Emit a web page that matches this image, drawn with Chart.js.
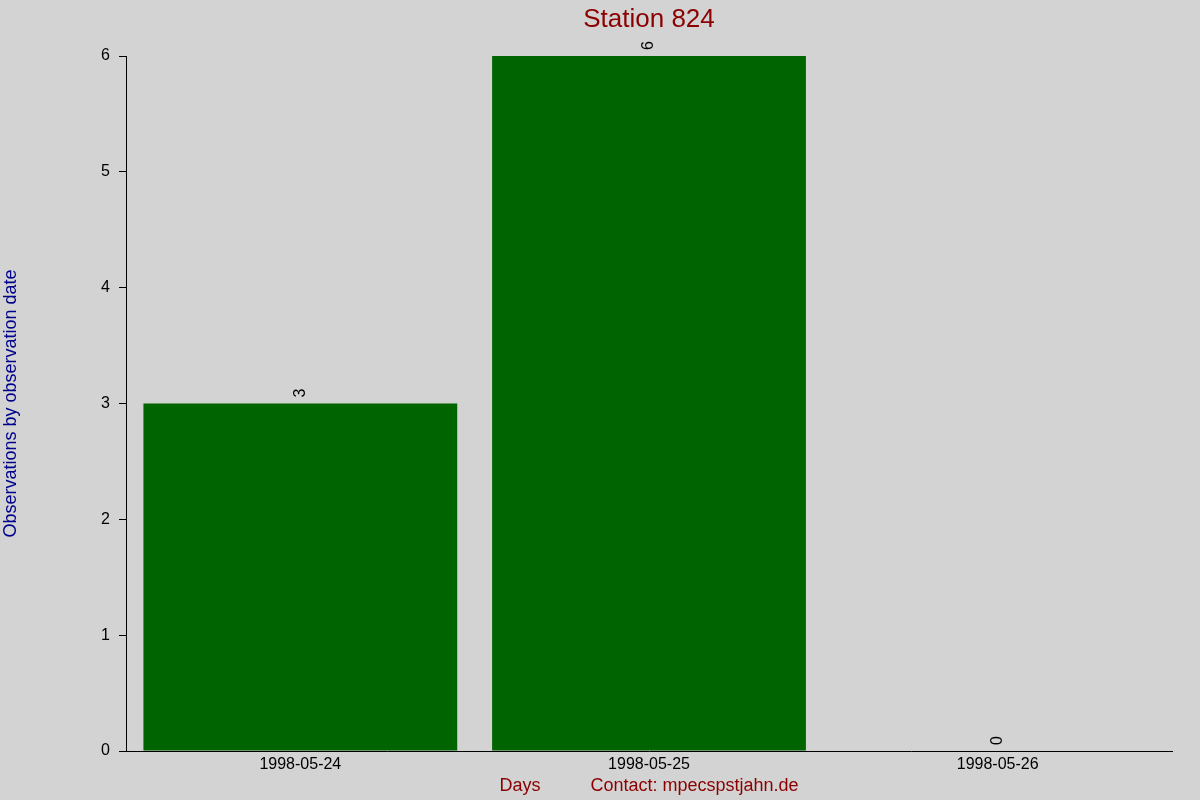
<!DOCTYPE html>
<html>
<head>
<meta charset="utf-8">
<script src="https://cdn.jsdelivr.net/npm/chart.js@4"></script>
<style>
  body { margin: 0; background: #d3d3d3; }
  canvas { display: block; }
</style>
</head>
<body>
<canvas id="myChart" width="1200" height="800"></canvas>
<script>
const days = ['1998-05-24', '1998-05-25', '1998-05-26'];
const observations = [3, 6, 0];
const yTicks = [0, 1, 2, 3, 4, 5, 6];

const fontFamily = '"Liberation Sans", Arial, sans-serif';

// value written sideways above each bar
const valueLabels = {
  id: 'valueLabels',
  afterDatasetsDraw(chart) {
    const ctx = chart.ctx;
    const meta = chart.getDatasetMeta(0);
    ctx.save();
    ctx.font = '16px ' + fontFamily;
    ctx.fillStyle = '#000';
    ctx.textAlign = 'left';
    ctx.textBaseline = 'middle';
    meta.data.forEach((bar, i) => {
      ctx.save();
      ctx.translate(bar.x, bar.y - 6);
      ctx.rotate(-Math.PI / 2);
      ctx.fillText(String(observations[i]), 0, 0);
      ctx.restore();
    });
    ctx.restore();
  }
};

const data = {
  labels: days,
  datasets: [{
    data: observations,
    backgroundColor: '#006400',
    borderWidth: 0,
    categoryPercentage: 1,
    barPercentage: 0.9,
  }]
};

const config = {
  type: 'bar',
  data,
  options: {
    responsive: false,
    animation: false,
    layout: { padding: { left: 0, right: 28, top: 0, bottom: 0 } },
    plugins: {
      legend: { display: false },
      tooltip: { enabled: false },
      title: {
        display: true,
        text: 'Station 824',
        color: '#8b0000',
        fullSize: false,
        font: { family: fontFamily, size: 26, weight: 'normal' },
        padding: { top: 4, bottom: 20.8 }
      }
    },
    scales: {
      x: {
        grid: { display: false, drawTicks: false },
        border: { display: true, color: '#000', width: 1 },
        ticks: {
          color: '#000',
          padding: 4,
          maxRotation: 0,
          font: { family: fontFamily, size: 16 }
        },
        title: {
          display: true,
          text: 'Days          Contact: mpecspstjahn.de',
          color: '#8b0000',
          font: { family: fontFamily, size: 18 },
          padding: { top: 0, bottom: 3 }
        },
        afterFit(scale) { scale.height = 49; }
      },
      y: {
        min: 0,
        max: 6,
        afterBuildTicks(scale) {
          scale.ticks = yTicks.map(v => ({ value: v }));
        },
        grid: {
          drawOnChartArea: false,
          drawTicks: true,
          tickLength: 7,
          color: '#000'
        },
        border: { display: true, color: '#000', width: 1 },
        ticks: {
          color: '#000',
          padding: 9,
          font: { family: fontFamily, size: 16 }
        },
        title: {
          display: true,
          text: 'Observations by observation date',
          color: '#00008b',
          font: { family: fontFamily, size: 18 },
          padding: 0
        },
        afterFit(scale) { scale.width = 126; }
      }
    }
  },
  plugins: [valueLabels]
};

const myChart = new Chart(
  document.getElementById('myChart'),
  config
);
</script>
</body>
</html>
